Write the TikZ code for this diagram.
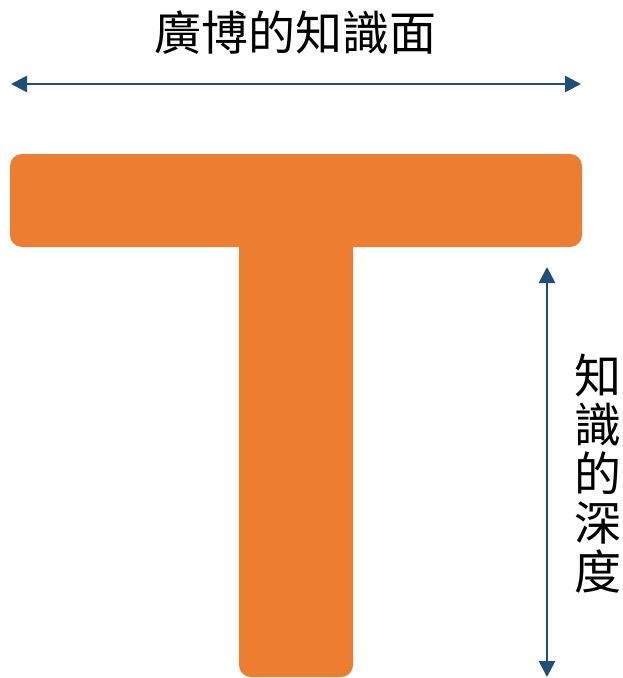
\documentclass[tikz,border=0pt]{standalone}
\usepackage{fontspec}
\newfontfamily\cjk{Noto Sans CJK TC}
\usetikzlibrary{arrows.meta}
\definecolor{torange}{HTML}{ED7D31}
\definecolor{tblue}{HTML}{1F4E79}

\begin{document}
\begin{tikzpicture}
[   x=1pt,y=-1pt,
    tbar/.style={fill=torange},
    span/.style={draw=tblue,line width=2.8pt,{Triangle[length=16pt,width=16pt]}-{Triangle[length=16pt,width=16pt]}},
    label/.style={font=\cjk\fontsize{47}{49}\selectfont,inner sep=0pt,align=center}
]
    \useasboundingbox (0,0) rectangle (622,678);
    % the T
    \fill[tbar,rounded corners=12pt] (10,154) rectangle (582,247);
    \fill[tbar] (239,240) [rounded corners=12pt] -- (239,677) -- (353,677) [sharp corners] -- (353,240) -- cycle;
    % breadth
    \coordinate (wl) at (11,84);
    \coordinate (wr) at (581,84);
    \draw[span] (wl) -- (wr);
    \node[label] (breadth) at (295,33) {廣博的知識面};
    % depth
    \coordinate (dt) at (547,267);
    \coordinate (db) at (547,677);
    \draw[span] (dt) -- (db);
    \node[label] (depth) at (598,474) {知\\識\\的\\深\\度};
\end{tikzpicture}
\end{document}
